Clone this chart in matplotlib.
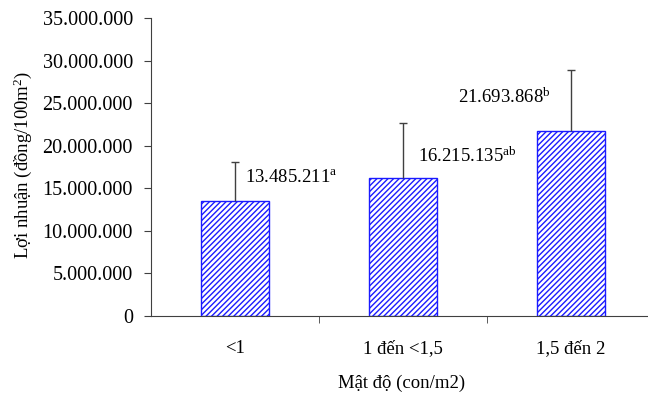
import matplotlib
matplotlib.use("Agg")
import matplotlib.pyplot as plt
from matplotlib.ticker import FuncFormatter, FixedLocator

categories = ["<1", "1 đến <1,5", "1,5 đến 2"]
values = [13485211, 16215135, 21693868]
errors = [4600000, 6450000, 7200000]
letters = ["a", "ab", "b"]

plt.rcParams['font.family'] = ['Liberation Serif', 'DejaVu Serif']
plt.rcParams['mathtext.fontset'] = 'custom'
plt.rcParams['mathtext.rm'] = 'Liberation Serif'
plt.rcParams['mathtext.it'] = 'Liberation Serif:italic'
plt.rcParams['hatch.color'] = '#2a2aff'
plt.rcParams['hatch.linewidth'] = 1.0

fig = plt.figure(figsize=(6.48, 3.95), dpi=100)
ax = fig.add_axes([151/648, 79/395, 1 - 151/648, (316-18)/395])

x = list(range(len(categories)))
bars = ax.bar(x, values, width=0.41, facecolor='white', edgecolor='#1a1aff',
              hatch='//////', linewidth=1.0, zorder=2)

for xi, v, e in zip(x, values, errors):
    _, caps, _ = ax.errorbar([xi], [v], yerr=[[0], [e]], fmt='none', ecolor='#404040',
                             elinewidth=1.0, capsize=3, capthick=1.0, zorder=3)
    if len(caps) > 0:
        caps[0].set_visible(False)

label_pos = [(0.06, 16.3e6), (0.09, 18.7e6), (-0.67, 25.7e6)]
for xi, v, l, (dx, yy) in zip(x, values, letters, label_pos):
    s = "{:,}".format(v).replace(",", ".")
    ax.text(xi + dx, yy, s + "$^{\\mathrm{" + l + "}}$", fontsize=13.5, ha='left', va='center')

ax.set_ylim(0, 35e6)
ax.set_xlim(-0.5, (648 - 151) / 168 - 0.5)
ax.yaxis.set_major_locator(FixedLocator([i * 5e6 for i in range(8)]))
ax.yaxis.set_major_formatter(FuncFormatter(lambda v, p: "{:,}".format(int(v)).replace(",", ".")))
ax.set_xticks(x)
ax.set_xticklabels(categories)
ax.tick_params(axis='x', which='major', length=0, pad=17, labelsize=13.5)
ax.set_xticks([0.5, 1.5], minor=True)
ax.tick_params(axis='x', which='minor', length=5, direction='out', color='#404040')
ax.tick_params(axis='y', length=5, direction='out', labelsize=14.5, color='#404040', pad=8)

for side in ['top', 'right']:
    ax.spines[side].set_visible(False)
ax.spines['left'].set_color('#404040')
ax.spines['bottom'].set_color('#404040')

ax.set_xlabel("Mật độ (con/m2)", fontsize=13.5)
ax.set_ylabel("Lợi nhuận (đồng/100m$^{2}$)", fontsize=13.5)
ax.yaxis.set_label_coords((34 - 151) / (648 - 151), (316 - 165) / 298)
ax.xaxis.set_label_coords((402 - 151) / (648 - 151), -(375 - 316) / 298)

fig.savefig("out.png", dpi=100)
